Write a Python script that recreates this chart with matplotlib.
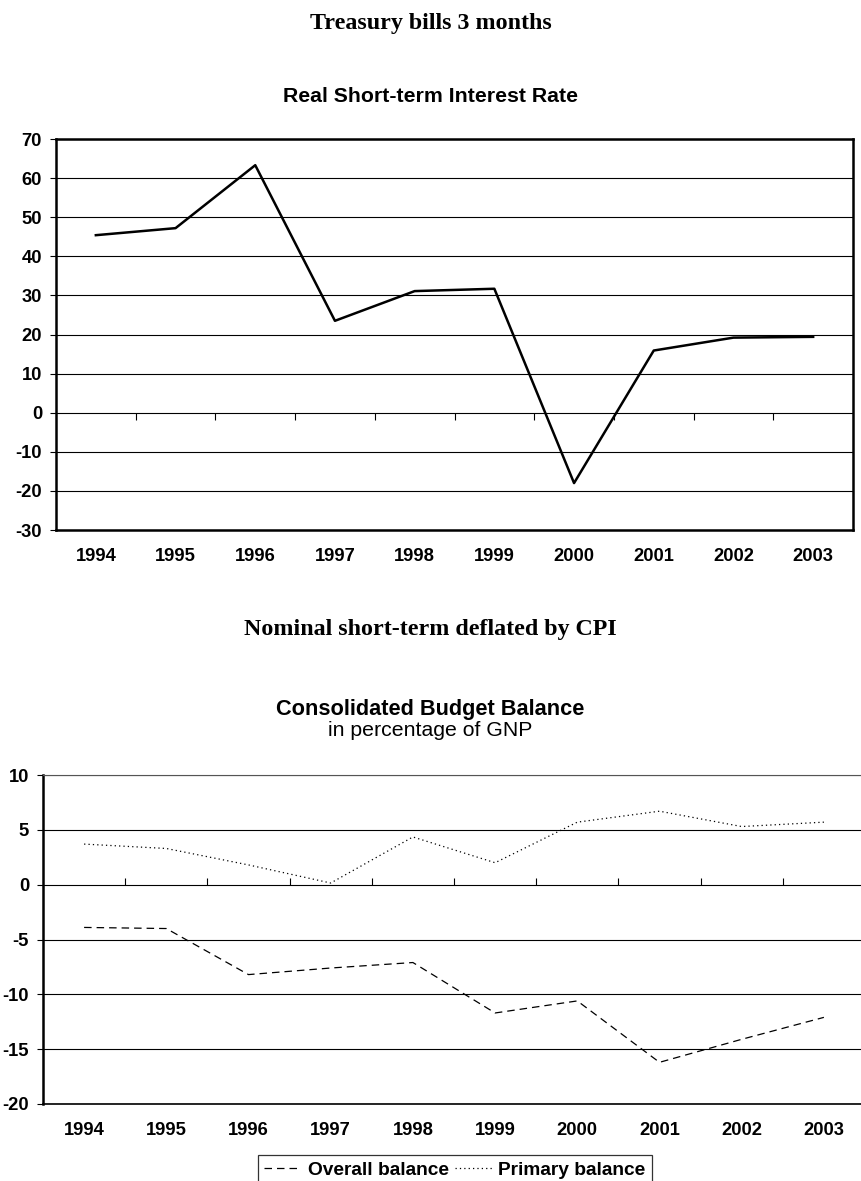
import numpy as np
import matplotlib
matplotlib.use("Agg")
import matplotlib.pyplot as plt
from matplotlib.markers import TICKDOWN, TICKUP

years = ["1994", "1995", "1996", "1997", "1998", "1999", "2000", "2001", "2002", "2003"]

# real short-term interest rate, %
real_rate = [45.4, 47.2, 63.3, 23.5, 31.1, 31.7, -18.0, 15.9, 19.2, 19.4]

# consolidated budget balance, % of GNP
overall_balance = [-3.9, -4.0, -8.2, -7.6, -7.1, -11.7, -10.6, -16.2, -14.1, -12.1]
primary_balance = [3.7, 3.3, 1.8, 0.15, 4.35, 2.0, 5.7, 6.7, 5.3, 5.7]

sans = ["Liberation Sans", "DejaVu Sans"]
serif = ["Liberation Serif", "DejaVu Serif"]
plt.rcParams["font.family"] = sans
plt.rcParams["axes.unicode_minus"] = False

W, H = 861, 1181
fig = plt.figure(figsize=(W / 100, H / 100), dpi=100)

def fx(px):
    return px / W

def fy(py):
    return 1 - py / H

x = np.arange(len(years))
edges = x[:-1] + 0.5


def style_axes(ax, ymin, ymax, step, pad):
    ax.set_xlim(-0.5, len(years) - 0.5)
    ax.set_ylim(ymin, ymax)
    ax.set_yticks(np.arange(ymin, ymax + step, step))
    ax.set_xticks(x)
    ax.set_xticklabels(years)
    ax.yaxis.grid(True, color="black", linewidth=0.8)
    ax.set_axisbelow(True)
    ax.tick_params(axis="y", direction="out", length=4, width=0.8, pad=6,
                   labelsize=13.2, colors="black")
    ax.tick_params(axis="x", length=0, pad=pad, labelsize=13.2)
    for lab in ax.get_xticklabels() + ax.get_yticklabels():
        lab.set_fontweight("bold")


# --- top panel: real short-term interest rate
fig.text(0.5, fy(24), "Treasury bills 3 months", ha="center", va="center",
         family=serif, fontweight="bold", fontsize=17.3)
fig.text(0.5, fy(97), "Real Short-term Interest Rate", ha="center", va="center",
         fontweight="bold", fontsize=15.3)

ax1 = fig.add_axes([fx(56), fy(530), fx(853 - 56), (530 - 139) / H])
style_axes(ax1, -30, 70, 10, 13)
for s in ax1.spines.values():
    s.set_linewidth(1.8)
    s.set_color("black")
ax1.plot(x, real_rate, color="black", linewidth=1.8, zorder=3)
ax1.plot(edges, np.zeros_like(edges), linestyle="none", marker=TICKDOWN,
         markersize=5, markeredgewidth=0.8, color="black", zorder=3)

fig.text(0.5, fy(630), "Nominal short-term deflated by CPI", ha="center", va="center",
         family=serif, fontweight="bold", fontsize=17.3)

# --- bottom panel: consolidated budget balance
fig.text(0.5, fy(710), "Consolidated Budget Balance", ha="center", va="center",
         fontweight="bold", fontsize=15.7)
fig.text(0.5, fy(731), "in percentage of GNP", ha="center", va="center",
         fontsize=15.3)

ax2 = fig.add_axes([fx(43), fy(1104), fx(822), (1104 - 775) / H])
style_axes(ax2, -20, 10, 5, 13)
ax2.spines["left"].set_linewidth(1.8)
ax2.spines["bottom"].set_linewidth(1.2)
ax2.spines["top"].set_linewidth(0.8)
ax2.spines["top"].set_color("#555555")
ax2.spines["right"].set_visible(False)
ax2.plot(x, overall_balance, color="black", linewidth=0.9,
         dashes=(6, 4), label="Overall balance", zorder=3)
ax2.plot(x, primary_balance, color="black", linewidth=0.9,
         dashes=(1, 2.5), label="Primary balance", zorder=3)
ax2.plot(edges, np.zeros_like(edges), linestyle="none", marker=TICKUP,
         markersize=5, markeredgewidth=0.8, color="black", zorder=3)

leg = fig.legend(loc="upper center", bbox_to_anchor=(fx(455), fy(1155)),
                 ncol=2, frameon=True, fancybox=False, edgecolor="black",
                 handlelength=1.9, handletextpad=0.35, columnspacing=0.35,
                 borderpad=0.35, borderaxespad=0,
                 prop={"weight": "bold", "size": 13.8})
leg.get_frame().set_linewidth(0.9)

fig.savefig("out.png", dpi=100)
